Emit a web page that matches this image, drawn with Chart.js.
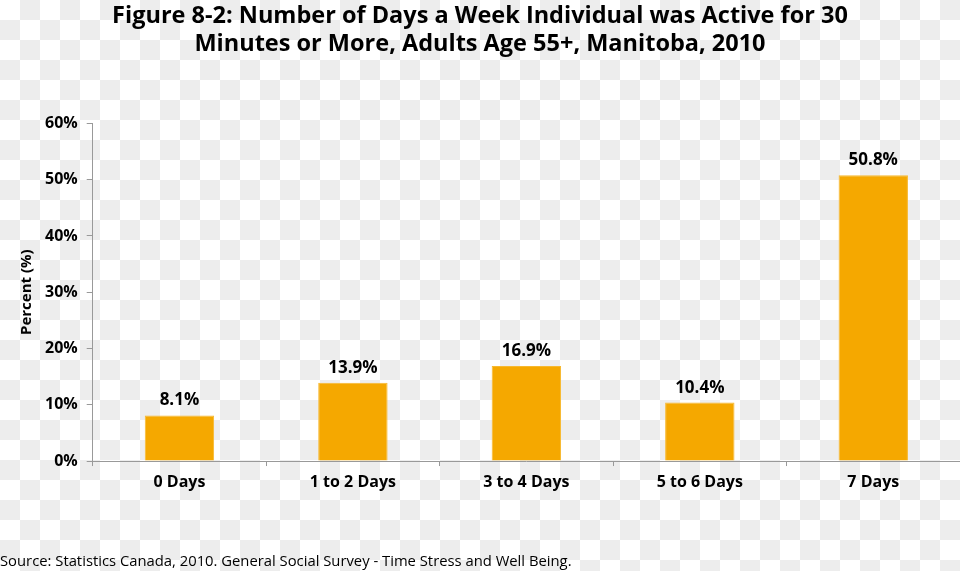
<!DOCTYPE html>
<html>
<head>
<meta charset="utf-8">
<script src="https://cdn.jsdelivr.net/npm/chart.js@4"></script>
<style>
  html, body { margin: 0; padding: 0; }
  body {
    width: 960px; height: 571px; overflow: hidden;
    background-color: #fff;
    background-image: conic-gradient(#ededed 0 25%, #fff 0 50%, #ededed 0 75%, #fff 0);
    background-size: 40px 40px;
  }
  #wrap { position: relative; width: 960px; height: 571px; }
</style>
</head>
<body>
<div id="wrap"><canvas id="daysChart"></canvas></div>
<script>
const categories = ['0 Days', '1 to 2 Days', '3 to 4 Days', '5 to 6 Days', '7 Days']
const percentActive = [8.1, 13.9, 16.9, 10.4, 50.8]
const yTicks = [0, 10, 20, 30, 40, 50, 60]

const fontFamily = '"Open Sans", sans-serif'

// writes the value above each bar
const barLabels = {
    id: 'barLabels',
    afterDatasetsDraw(chart) {
        const ctx = chart.ctx
        const meta = chart.getDatasetMeta(0)
        ctx.save()
        ctx.font = 'bold 17px ' + fontFamily
        ctx.fillStyle = '#000'
        ctx.textAlign = 'center'
        ctx.textBaseline = 'alphabetic'
        meta.data.forEach((bar, i) => {
            ctx.fillText(percentActive[i].toFixed(1) + '%', bar.x, bar.y - 10)
        })
        ctx.restore()
    }
}

const daysChart = new Chart(document.getElementById('daysChart'), {
    type: 'bar',
    data: {
        labels: categories,
        datasets: [{
            label: 'Percent',
            data: percentActive,
            backgroundColor: '#f5a800',
            borderColor: '#f7b82e',
            borderWidth: 1,
            barPercentage: 0.4,
            categoryPercentage: 1,
        }]
    },
    options: {
        responsive: true,
        maintainAspectRatio: false,
        animation: false,
        layout: { padding: { left: 0, right: 0, top: 0, bottom: 0 } },
        plugins: {
            legend: { display: false },
            tooltip: { enabled: false },
            title: {
                display: true,
                text: ['Figure 8-2: Number of Days a Week Individual was Active for 30',
                       'Minutes or More, Adults Age 55+, Manitoba, 2010'],
                color: '#000',
                font: { family: fontFamily, size: 23.5, weight: 'bold', lineHeight: 1.2 },
                padding: { top: 2, bottom: 65 },
            },
            subtitle: {
                display: true,
                position: 'bottom',
                align: 'start',
                text: 'Source: Statistics Canada, 2010. General Social Survey - Time Stress and Well Being.',
                color: '#000',
                font: { family: fontFamily, size: 14.8, weight: 'normal' },
                padding: { top: 54, bottom: 0 },
            },
        },
        scales: {
            x: {
                grid: { display: true, drawOnChartArea: false, offset: true, tickLength: 5, color: '#999' },
                border: { display: true, color: '#999', width: 1 },
                ticks: { color: '#000', font: { family: fontFamily, size: 16, weight: 'bold' }, padding: 7 },
            },
            y: {
                min: 0,
                max: 60,
                afterBuildTicks(axis) {
                    axis.ticks = yTicks.map(v => ({ value: v }))
                },
                grid: { display: true, drawOnChartArea: false, tickLength: 6, color: '#999' },
                border: { display: true, color: '#999', width: 1 },
                ticks: {
                    color: '#000',
                    font: { family: fontFamily, size: 16, weight: 'bold' },
                    padding: 9,
                    callback: v => v + '%',
                },
                title: {
                    display: true,
                    text: 'Percent (%)',
                    color: '#000',
                    font: { family: fontFamily, size: 15, weight: 'bold' },
                    padding: { top: 18, bottom: 0 },
                },
            },
        },
    },
    plugins: [barLabels],
})
</script>
</body>
</html>
